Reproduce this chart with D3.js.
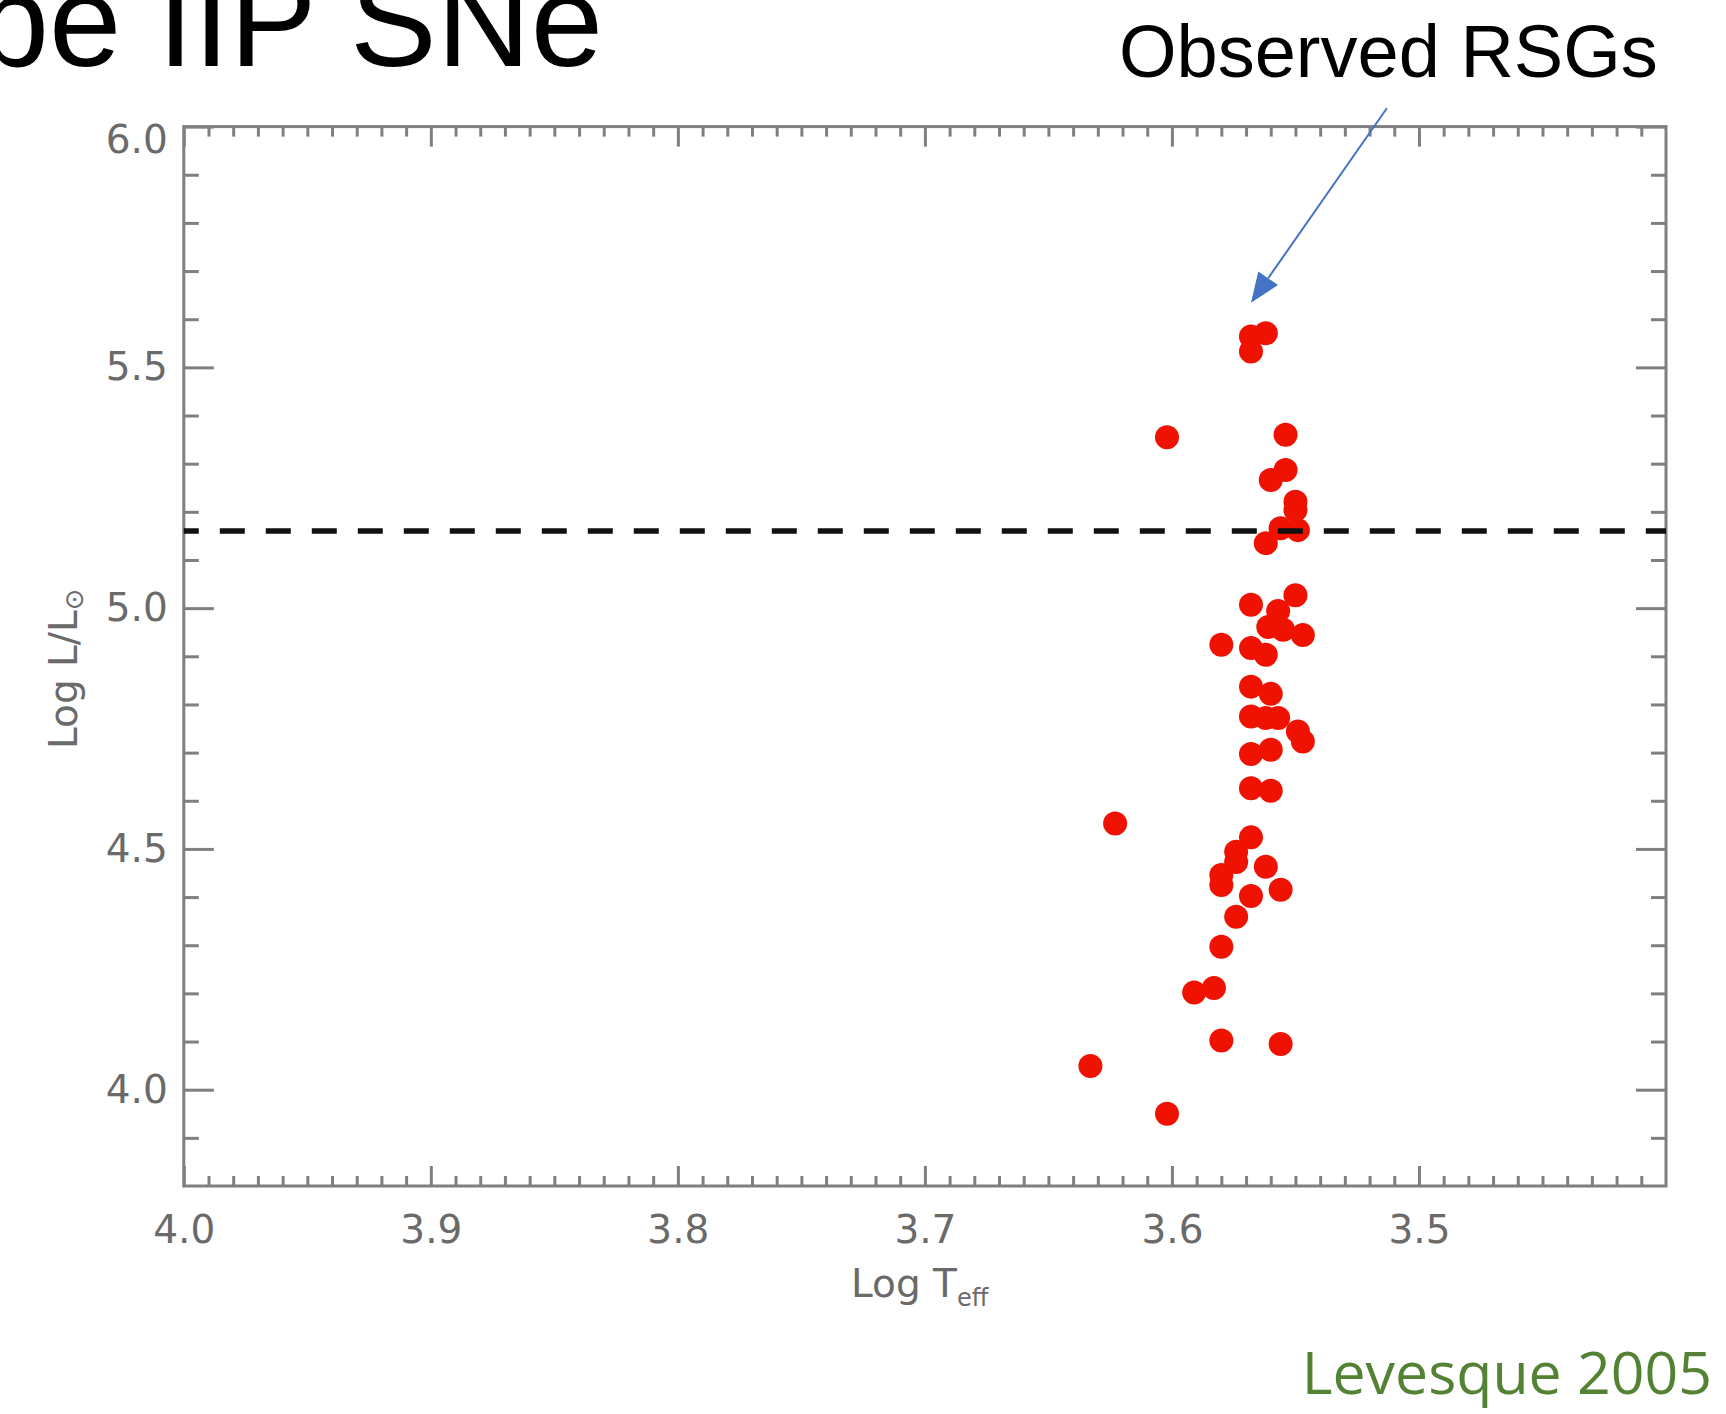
<!DOCTYPE html>
<html>
<head>
<meta charset="utf-8">
<script src="https://cdn.jsdelivr.net/npm/d3@7"></script>
<style>
  html, body { margin: 0; padding: 0; background: #fff; }
  svg { display: block; }
</style>
</head>
<body>
<div id="chart"></div>
<script>
// tick values
var xTicks = [4.0, 3.9, 3.8, 3.7, 3.6, 3.5];
var yTicks = [4.0, 4.5, 5.0, 5.5, 6.0];

// observed red supergiants
var logTeff = [3.568, 3.562, 3.568, 3.602, 3.554, 3.554, 3.560, 3.550, 3.550, 3.556,
               3.549, 3.562, 3.568, 3.550, 3.557, 3.561, 3.555, 3.547, 3.580, 3.568,
               3.562, 3.568, 3.560, 3.568, 3.562, 3.557, 3.549, 3.547, 3.568, 3.560,
               3.568, 3.560, 3.623, 3.568, 3.574, 3.574, 3.580, 3.580, 3.562, 3.568,
               3.556, 3.574, 3.580, 3.591, 3.583, 3.580, 3.556, 3.633, 3.602];
var logL    = [5.564, 5.571, 5.533, 5.355, 5.360, 5.287, 5.266, 5.221, 5.204, 5.166,
               5.162, 5.135, 5.007, 5.027, 4.994, 4.961, 4.955, 4.944, 4.924, 4.917,
               4.903, 4.837, 4.822, 4.775, 4.772, 4.772, 4.744, 4.723, 4.697, 4.706,
               4.626, 4.621, 4.553, 4.524, 4.494, 4.473, 4.446, 4.425, 4.463, 4.402,
               4.415, 4.359, 4.297, 4.202, 4.211, 4.102, 4.095, 4.049, 3.950];

var limitLum = 5.16;
var arrowFrom = [3.513, 6.038];
var arrowTo = [3.568, 5.634];

var W = 1726, H = 1414;
var axisGrey = "#7f7f7f";
var labelGrey = "#6a6a6a";

var svg = d3.select("#chart").append("svg")
  .attr("width", W).attr("height", H)
  .style("background", "#fff");

var x = d3.scaleLinear().domain([4.0, 3.4]).range([183.8, 1666]);
var y = d3.scaleLinear().domain([3.8, 6.0]).range([1186, 126.6]);

var xMinor = d3.range(1, 60).map(function(i){ return +(4.0 - i * 0.01).toFixed(2); })
  .filter(function(v){ return Math.abs(v * 10 - Math.round(v * 10)) > 1e-6; });
var yMinor = d3.range(1, 22).map(function(i){ return +(3.8 + i * 0.1).toFixed(1); })
  .filter(function(v){ return Math.abs(v * 2 - Math.round(v * 2)) > 1e-6; });

function styleAxis(g){
  g.select(".domain").remove();
  g.selectAll(".tick line").attr("stroke", axisGrey).attr("stroke-width", 3);
  g.selectAll(".tick text")
    .attr("fill", labelGrey)
    .style("font-family", "'DejaVu Sans', sans-serif")
    .style("font-size", "39px");
}

var plotBottom = y.range()[0], plotTop = y.range()[1];
var plotLeft = x.range()[0], plotRight = x.range()[1];

// bottom / top
svg.append("g").attr("transform", "translate(0," + plotBottom + ")")
  .call(d3.axisBottom(x).tickValues(xMinor).tickSizeInner(-10).tickSizeOuter(0).tickFormat(""))
  .call(styleAxis);
svg.append("g").attr("transform", "translate(0," + plotBottom + ")")
  .call(d3.axisBottom(x).tickValues(xTicks).tickSizeInner(-20).tickSizeOuter(0)
    .tickPadding(29).tickFormat(d3.format(".1f")))
  .call(styleAxis);
svg.append("g").attr("transform", "translate(0," + plotTop + ")")
  .call(d3.axisTop(x).tickValues(xMinor).tickSizeInner(-10).tickSizeOuter(0).tickFormat(""))
  .call(styleAxis);
svg.append("g").attr("transform", "translate(0," + plotTop + ")")
  .call(d3.axisTop(x).tickValues(xTicks).tickSizeInner(-20).tickSizeOuter(0).tickFormat(""))
  .call(styleAxis);

// left / right
svg.append("g").attr("transform", "translate(" + plotLeft + ",0)")
  .call(d3.axisLeft(y).tickValues(yMinor).tickSizeInner(-15).tickSizeOuter(0).tickFormat(""))
  .call(styleAxis);
var yAx = svg.append("g").attr("transform", "translate(" + plotLeft + ",0)")
  .call(d3.axisLeft(y).tickValues(yTicks).tickSizeInner(-30).tickSizeOuter(0)
    .tickPadding(16).tickFormat(d3.format(".1f")))
  .call(styleAxis);
// top label sits a little below the corner, as in the original
yAx.selectAll(".tick text").filter(function(d){ return d === 6.0; }).attr("y", 13);

svg.append("g").attr("transform", "translate(" + plotRight + ",0)")
  .call(d3.axisRight(y).tickValues(yMinor).tickSizeInner(-15).tickSizeOuter(0).tickFormat(""))
  .call(styleAxis);
svg.append("g").attr("transform", "translate(" + plotRight + ",0)")
  .call(d3.axisRight(y).tickValues(yTicks).tickSizeInner(-30).tickSizeOuter(0).tickFormat(""))
  .call(styleAxis);

// frame
svg.append("rect")
  .attr("x", plotLeft).attr("y", plotTop)
  .attr("width", plotRight - plotLeft).attr("height", plotBottom - plotTop)
  .attr("fill", "none").attr("stroke", axisGrey).attr("stroke-width", 3);

// points
svg.append("g").selectAll("circle")
  .data(logTeff.map(function(t, i){ return [t, logL[i]]; }))
  .enter().append("circle")
  .attr("cx", function(d){ return x(d[0]); })
  .attr("cy", function(d){ return y(d[1]); })
  .attr("r", 12)
  .attr("fill", "#f01200");

// dashed limit
svg.append("line")
  .attr("x1", plotLeft).attr("x2", plotRight)
  .attr("y1", y(limitLum)).attr("y2", y(limitLum))
  .attr("stroke", "#111").attr("stroke-width", 5.5)
  .attr("stroke-dasharray", "25,21").attr("stroke-dashoffset", 10);

// axis titles
var xt = svg.append("text")
  .attr("x", 851).attr("y", 1297)
  .attr("fill", labelGrey)
  .style("font-family", "'DejaVu Sans', sans-serif")
  .style("font-size", "39px");
xt.append("tspan").text("Log T");
xt.append("tspan").attr("dy", 9).style("font-size", "24px").text("eff");

var yt = svg.append("text")
  .attr("transform", "translate(77,749) rotate(-90)")
  .attr("fill", labelGrey)
  .style("font-family", "'DejaVu Sans', sans-serif")
  .style("font-size", "39px");
yt.append("tspan").text("Log L/L");
yt.append("tspan").attr("dy", 6).style("font-size", "26px").text("\u2299");

// slide texts
svg.append("text")
  .attr("x", 603).attr("y", 66)
  .attr("text-anchor", "end")
  .attr("fill", "#000")
  .style("font-family", "'Liberation Sans', Arial, sans-serif")
  .style("font-size", "130px")
  .text("Type IIP SNe");

svg.append("text")
  .attr("x", 1119).attr("y", 77)
  .attr("fill", "#000")
  .style("font-family", "'Liberation Sans', Arial, sans-serif")
  .style("font-size", "74px")
  .text("Observed RSGs");

svg.append("text")
  .attr("x", 1712).attr("y", 1394)
  .attr("text-anchor", "end")
  .attr("fill", "#548235")
  .style("font-family", "'Open Sans', sans-serif")
  .style("font-size", "59px")
  .text("Levesque 2005");

// arrow
var p0 = [x(arrowFrom[0]), y(arrowFrom[1])];
var p1 = [x(arrowTo[0]), y(arrowTo[1])];
var dx = p1[0] - p0[0], dy = p1[1] - p0[1];
var len = Math.sqrt(dx * dx + dy * dy);
var ux = dx / len, uy = dy / len;
var headL = 30, headW = 12;
var base = [p1[0] - ux * headL, p1[1] - uy * headL];
svg.append("line")
  .attr("x1", p0[0]).attr("y1", p0[1])
  .attr("x2", base[0]).attr("y2", base[1])
  .attr("stroke", "#4472c4").attr("stroke-width", 2);
svg.append("path")
  .attr("d", "M" + p1[0] + "," + p1[1] +
             "L" + (base[0] + uy * headW) + "," + (base[1] - ux * headW) +
             "L" + (base[0] - uy * headW) + "," + (base[1] + ux * headW) + "Z")
  .attr("fill", "#4472c4");
</script>
</body>
</html>
